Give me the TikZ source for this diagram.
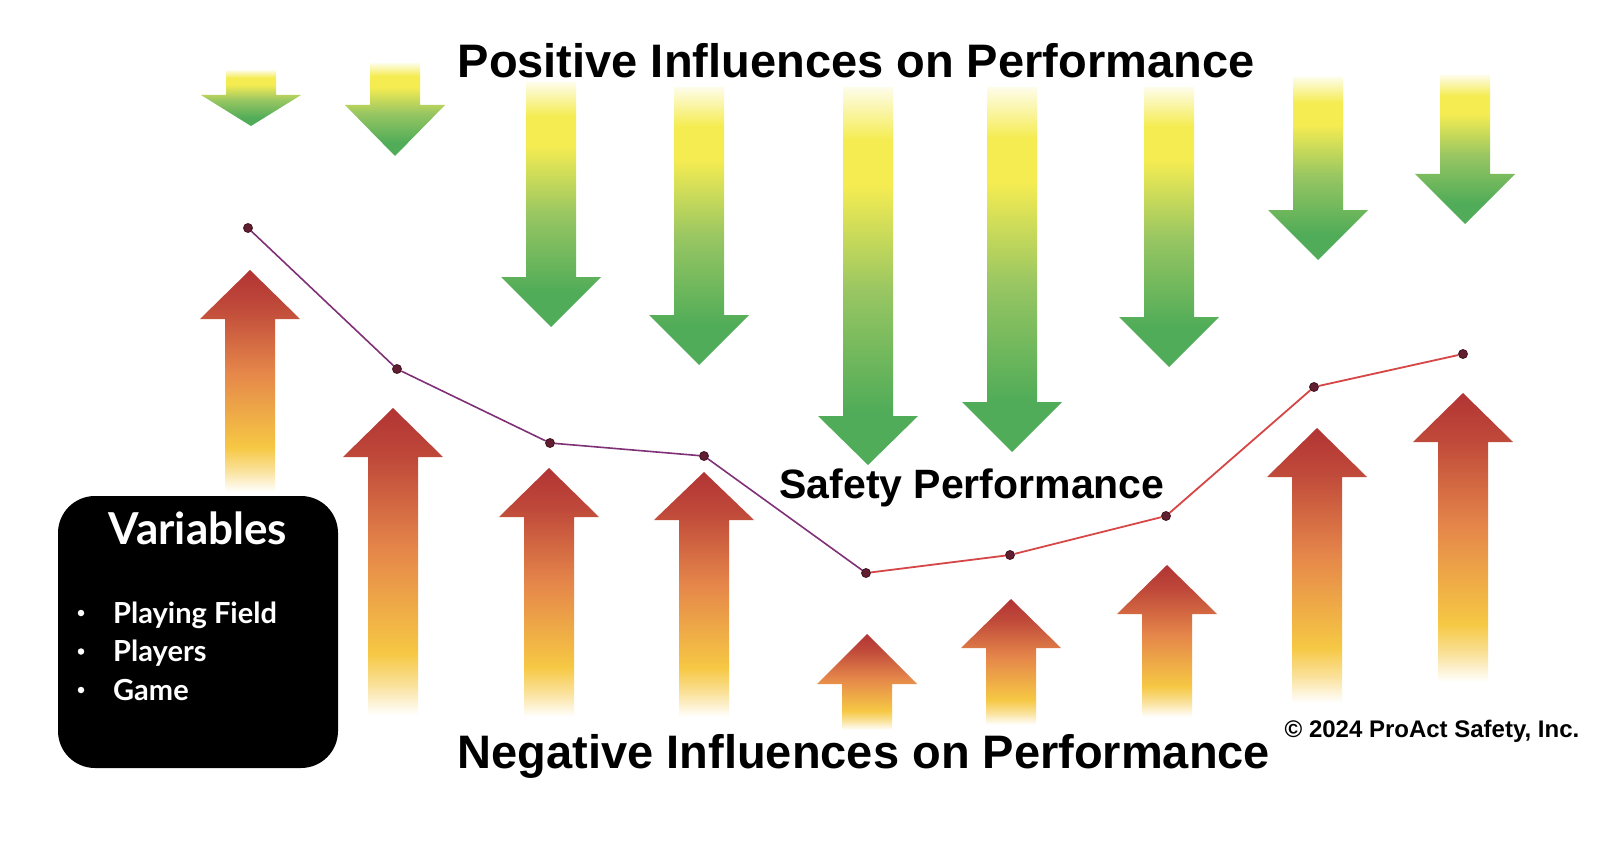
\documentclass[tikz,border=0pt]{standalone}
\usepackage{fontspec}
\setmainfont{Liberation Sans}
\newfontfamily\boxfont{Lato}
\usetikzlibrary{positioning}

\definecolor{posgreen}{RGB}{80,172,88}
\definecolor{poslime}{RGB}{152,198,98}
\definecolor{posyellow}{RGB}{245,236,82}
\definecolor{negred}{RGB}{178,52,52}
\definecolor{negorange}{RGB}{229,134,74}
\definecolor{negyellow}{RGB}{246,200,68}
\definecolor{fallpurple}{RGB}{128,48,118}
\definecolor{risered}{RGB}{214,70,70}
\definecolor{dotfill}{RGB}{96,30,48}

% down arrows: green tip, yellow shaft, pale top
\pgfdeclareverticalshading{posfade}{100bp}{color(0bp)=(posgreen); color(32bp)=(posgreen);
  color(48bp)=(poslime); color(62bp)=(posyellow); color(68bp)=(posyellow);
  color(75bp)=(posyellow!12!white); color(100bp)=(white)}
% up arrows: red tip, orange shaft, fading foot
\pgfdeclareverticalshading{negfade}{100bp}{color(0bp)=(white); color(25bp)=(white);
  color(30bp)=(negyellow!55!white); color(35bp)=(negyellow); color(52bp)=(negorange);
  color(67bp)=(negred!75!negorange); color(75bp)=(negred); color(100bp)=(negred)}

\begin{document}
\begin{tikzpicture}[
  x=1pt, y=-1pt,
  every node/.style={inner sep=0pt},
  headline/.style = {font=\bfseries\fontsize{47}{51}\selectfont, anchor=base},
  midline/.style  = {font=\bfseries\fontsize{41}{45}\selectfont, anchor=base},
  credit/.style   = {font=\bfseries\fontsize{24}{28}\selectfont, anchor=base},
  varbox/.style   = {fill=black, rounded corners=37pt, minimum width=280pt, minimum height=272pt},
  vartitle/.style = {font=\boxfont\bfseries\fontsize{44}{48}\selectfont, text=white, anchor=base},
  varitem/.style  = {font=\boxfont\bfseries\fontsize{29}{33}\selectfont, text=white, anchor=base west},
  bullet/.style   = {circle, fill=white, minimum size=6.5pt},
  dot/.style      = {circle, fill=dotfill, draw=dotfill!70!black, line width=0.8pt, minimum size=9pt},
  fallline/.style = {line width=1.6pt, fallpurple},
  riseline/.style = {line width=1.8pt, risered},
]
  \fill[white] (0,0) rectangle (1620,848);
  \useasboundingbox (0,0) rectangle (1620,848);

  % positive influences (down)
  \foreach \c/\t/\b/\p in {251/70/95/126, 395/63/105/156, 551/82/277/327, 699/87/315/365,
      868/87/416/465, 1012/87/402/452, 1169/87/317/367, 1318/77/210/260, 1465/75/174/224}
    \shade[shading=posfade] (\c-25,\t) -- (\c+25,\t) -- (\c+25,\b) -- (\c+50,\b)
      -- (\c,\p) -- (\c-50,\b) -- (\c-25,\b) -- cycle;

  % negative influences (up)
  \foreach \c/\p/\b/\e in {250/270/319/492, 393/408/457/715, 549/468/517/717, 704/472/520/717,
      867/634/684/730, 1011/599/648/725, 1167/565/614/717, 1317/428/477/703, 1463/393/442/682}
    \shade[shading=negfade] (\c,\p) -- (\c+50,\b) -- (\c+25,\b) -- (\c+25,\e)
      -- (\c-25,\e) -- (\c-25,\b) -- (\c-50,\b) -- cycle;

  % performance curve
  \foreach \n/\x/\y in {1/248/228, 2/397/369, 3/550/443, 4/704/456, 5/866/573,
      6/1010/555, 7/1166/516, 8/1314/387, 9/1463/354}
    \node[dot] (p\n) at (\x,\y) {};
  \draw[fallline] (p1) -- (p2) -- (p3) -- (p4) -- (p5);
  \draw[riseline] (p5) -- (p6) -- (p7) -- (p8) -- (p9);

  \node[headline] (postitle) at (856,78) {Positive Influences on Performance};
  \node[headline] (negtitle) at (864,768) {Negative Influences on Performance};
  \node[midline] (safety) at (972,498) {Safety Performance};
  \node[credit] (copy) at (1432,737) {© 2024 ProAct Safety, Inc.};

  % variables legend
  \node[varbox] (vars) at (198,632) {};
  \node[vartitle] (vtitle) at (198,544) {Variables};
  \foreach \i/\s in {0/Playing Field, 1/Players, 2/Game}{
    \node[varitem] (v\i) at (113,623+38.5*\i) {\s};
    \node[bullet] (b\i) at (81,613+38.5*\i) {};
  }
\end{tikzpicture}
\end{document}
